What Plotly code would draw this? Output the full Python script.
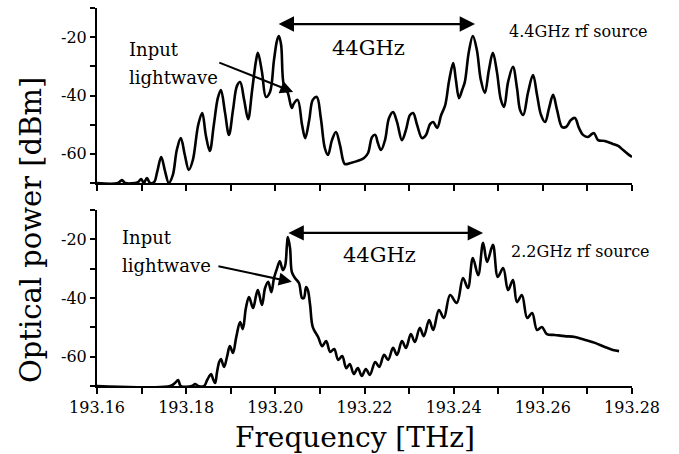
import plotly.graph_objects as go

# ---- data ----
freq_top = [193.1600, 193.1647, 193.1656, 193.1663, 193.1692, 193.1699, 193.1705, 193.1712, 193.1719, 193.1728,
            193.1735, 193.1744, 193.1753, 193.1761, 193.1770, 193.1779, 193.1788, 193.1797, 193.1806, 193.1815,
            193.1827, 193.1836, 193.1844, 193.1853, 193.1862, 193.1871, 193.1878, 193.1887, 193.1896, 193.1905,
            193.1914, 193.1921, 193.1930, 193.1939, 193.1948, 193.1957, 193.1961, 193.1970, 193.1979, 193.1988,
            193.1997, 193.2004, 193.2008, 193.2013, 193.2019, 193.2028, 193.2037, 193.2041, 193.2050, 193.2060,
            193.2067, 193.2076, 193.2084, 193.2093, 193.2102, 193.2111, 193.2118, 193.2127, 193.2136, 193.2145,
            193.2156, 193.2167, 193.2183, 193.2199, 193.2208, 193.2217, 193.2224, 193.2230, 193.2237, 193.2246,
            193.2255, 193.2264, 193.2273, 193.2284, 193.2293, 193.2302, 193.2309, 193.2318, 193.2329, 193.2338,
            193.2347, 193.2354, 193.2363, 193.2372, 193.2381, 193.2390, 193.2399, 193.2405, 193.2412, 193.2419,
            193.2425, 193.2434, 193.2443, 193.2452, 193.2461, 193.2470, 193.2479, 193.2488, 193.2497, 193.2506,
            193.2513, 193.2522, 193.2533, 193.2542, 193.2549, 193.2556, 193.2567, 193.2578, 193.2587, 193.2596,
            193.2605, 193.2614, 193.2623, 193.2632, 193.2643, 193.2652, 193.2663, 193.2672, 193.2681, 193.2690,
            193.2701, 193.2710, 193.2715, 193.2724, 193.2739, 193.2757, 193.2769, 193.2780, 193.2791, 193.2800]
power_top = [-70.0, -70.0, -69.0, -70.0, -69.7, -68.6, -70.0, -68.3, -70.0, -69.7,
             -66.2, -61.1, -66.2, -70.0, -67.3, -58.7, -54.6, -60.4, -65.5, -62.1,
             -50.1, -46.0, -53.5, -59.0, -50.1, -40.9, -38.1, -45.7, -53.5, -45.0,
             -36.7, -35.4, -41.5, -48.1, -38.1, -27.8, -25.4, -31.9, -40.5, -38.8,
             -27.8, -21.0, -19.6, -22.7, -36.4, -39.1, -44.3, -42.9, -41.5, -50.1,
             -54.6, -48.4, -41.5, -40.5, -47.7, -58.0, -60.4, -55.3, -52.5, -57.0,
             -63.5, -63.2, -62.5, -61.4, -59.7, -54.2, -53.5, -56.3, -58.7, -55.3,
             -47.7, -45.7, -49.1, -55.3, -51.8, -46.7, -46.0, -50.1, -54.6, -53.5,
             -49.8, -49.1, -51.1, -46.7, -43.3, -34.7, -28.9, -34.7, -40.9, -38.1,
             -35.4, -25.1, -19.6, -24.4, -34.7, -39.1, -31.3, -25.4, -31.9, -41.5,
             -43.9, -35.4, -30.2, -37.4, -45.0, -46.7, -38.8, -33.0, -39.8, -46.7,
             -49.1, -44.3, -39.8, -45.0, -50.8, -50.8, -48.4, -47.7, -51.1, -53.5,
             -54.2, -53.2, -52.9, -55.3, -55.6, -56.6, -57.3, -58.7, -60.1, -61.1]

freq_bot = [193.1600, 193.1764, 193.1775, 193.1782, 193.1788, 193.1813, 193.1820, 193.1827, 193.1840, 193.1847,
            193.1851, 193.1856, 193.1860, 193.1865, 193.1869, 193.1874, 193.1878, 193.1885, 193.1892, 193.1898,
            193.1905, 193.1912, 193.1921, 193.1927, 193.1934, 193.1941, 193.1950, 193.1957, 193.1961, 193.1970,
            193.1977, 193.1984, 193.1991, 193.1997, 193.2004, 193.2010, 193.2017, 193.2022, 193.2026, 193.2028,
            193.2033, 193.2037, 193.2044, 193.2053, 193.2060, 193.2064, 193.2069, 193.2073, 193.2078, 193.2084,
            193.2096, 193.2105, 193.2114, 193.2123, 193.2132, 193.2141, 193.2150, 193.2159, 193.2167, 193.2176,
            193.2185, 193.2194, 193.2203, 193.2212, 193.2224, 193.2233, 193.2244, 193.2253, 193.2264, 193.2273,
            193.2284, 193.2293, 193.2304, 193.2313, 193.2324, 193.2333, 193.2345, 193.2354, 193.2367, 193.2378,
            193.2392, 193.2407, 193.2421, 193.2432, 193.2443, 193.2455, 193.2466, 193.2475, 193.2488, 193.2499,
            193.2511, 193.2522, 193.2533, 193.2542, 193.2553, 193.2565, 193.2576, 193.2587, 193.2598, 193.2609,
            193.2627, 193.2649, 193.2672, 193.2695, 193.2717, 193.2739, 193.2757, 193.2771]
power_bot = [-70.0, -70.0, -69.0, -68.0, -70.0, -70.0, -69.3, -70.0, -70.0, -68.0,
             -66.9, -65.9, -67.5, -69.0, -65.5, -61.8, -60.8, -63.5, -59.8, -56.4,
             -58.7, -53.6, -48.2, -50.6, -43.4, -39.7, -43.4, -39.0, -37.3, -42.4,
             -36.6, -34.5, -38.0, -33.2, -29.8, -27.5, -30.5, -29.0, -22.0, -19.2,
             -23.0, -31.1, -33.2, -34.9, -40.0, -40.0, -36.3, -37.3, -42.4, -49.9,
             -53.3, -56.4, -54.7, -58.4, -57.4, -61.1, -59.8, -63.9, -62.5, -65.9,
             -63.9, -66.6, -64.2, -66.2, -61.8, -63.5, -59.4, -61.1, -57.0, -59.4,
             -54.7, -57.0, -52.3, -55.0, -50.2, -53.0, -47.5, -50.9, -44.1, -46.8,
             -39.0, -41.7, -33.2, -36.6, -26.4, -32.2, -21.2, -27.7, -21.9, -32.8,
             -29.8, -37.3, -33.9, -41.4, -39.0, -46.8, -45.1, -50.9, -49.9, -52.3,
             -52.6, -53.0, -53.3, -54.3, -55.3, -56.7, -57.7, -58.1]

x_tick_vals = [193.16, 193.17, 193.18, 193.19, 193.20, 193.21, 193.22,
               193.23, 193.24, 193.25, 193.26, 193.27, 193.28]
x_tick_labels = ["193.16", "", "193.18", "", "193.20", "", "193.22",
                 "", "193.24", "", "193.26", "", "193.28"]
y_tick_vals = [-70, -60, -50, -40, -30, -20, -10]
y_tick_labels = ["", "-60", "", "-40", "", "-20", ""]

FONT = "DejaVu Serif"
BLACK = "#000000"

fig = go.Figure()
fig.add_trace(go.Scatter(x=freq_top, y=power_top, mode="lines",
                         line=dict(color=BLACK, width=2.6, shape="spline", smoothing=1.0),
                         xaxis="x", yaxis="y", showlegend=False, hoverinfo="skip"))
fig.add_trace(go.Scatter(x=freq_bot, y=power_bot, mode="lines",
                         line=dict(color=BLACK, width=2.6, shape="spline", smoothing=1.0),
                         xaxis="x2", yaxis="y2", showlegend=False, hoverinfo="skip"))

xax = dict(range=[193.16, 193.28], showline=True, linecolor=BLACK, linewidth=2,
           ticks="outside", ticklen=6, tickwidth=1.5, tickcolor=BLACK,
           tickvals=x_tick_vals, showgrid=False, zeroline=False,
           tickfont=dict(family=FONT, size=16, color=BLACK), mirror=False)
yax = dict(range=[-70, -10], showline=True, linecolor=BLACK, linewidth=2,
           ticks="outside", ticklen=5, tickwidth=1.5, tickcolor=BLACK,
           tickvals=y_tick_vals, ticktext=y_tick_labels, showgrid=False, zeroline=False,
           tickfont=dict(family=FONT, size=16, color=BLACK), mirror=False)

fig.update_layout(
    width=679, height=454,
    margin=dict(l=97, r=47, t=8, b=68),
    paper_bgcolor="white", plot_bgcolor="white",
    xaxis=dict(xax, domain=[0, 1], anchor="y", ticktext=[""] * len(x_tick_vals)),
    yaxis=dict(yax, domain=[0.537, 1.0], anchor="x"),
    xaxis2=dict(xax, domain=[0, 1], anchor="y2", ticktext=x_tick_labels),
    yaxis2=dict(yax, domain=[0.0, 0.4656], anchor="x2"),
)

ann = []
# double arrows (44 GHz spacing)
ann.append(dict(xref="x", yref="y", axref="x", ayref="y", x=193.2448, y=-15.5, ax=193.2004, ay=-15.5,
                text="", showarrow=True, arrowhead=2, startarrowhead=2, arrowside="end+start",
                arrowsize=1.4, startarrowsize=1.4, arrowwidth=2.2, arrowcolor=BLACK))
ann.append(dict(xref="x2", yref="y2", axref="x2", ayref="y2", x=193.2466, y=-17.8, ax=193.2026, ay=-17.8,
                text="", showarrow=True, arrowhead=2, startarrowhead=2, arrowside="end+start",
                arrowsize=1.4, startarrowsize=1.4, arrowwidth=2.2, arrowcolor=BLACK))
# input lightwave arrows
ann.append(dict(xref="x", yref="y", axref="x", ayref="y", x=193.2040, y=-38.8, ax=193.1871, ay=-28.5,
                text="", showarrow=True, arrowhead=2, arrowsize=1.3, arrowwidth=2, arrowcolor=BLACK))
ann.append(dict(xref="x2", yref="y2", axref="x2", ayref="y2", x=193.2037, y=-34.5, ax=193.1869, ay=-29.1,
                text="", showarrow=True, arrowhead=2, arrowsize=1.3, arrowwidth=2, arrowcolor=BLACK))

def label(xr, yr, x, y, t, size, xanchor="left"):
    return dict(xref=xr, yref=yr, x=x, y=y, text=t, showarrow=False, xanchor=xanchor, yanchor="middle",
                font=dict(family=FONT, size=size, color=BLACK))

ann.append(label("x", "y", 193.2208, -23.7, "44GHz", 21, "center"))
ann.append(label("x2", "y2", 193.2233, -25.3, "44GHz", 21, "center"))
ann.append(label("x", "y", 193.2520, -17.9, "4.4GHz rf source", 16))
ann.append(label("x2", "y2", 193.2524, -24.3, "2.2GHz rf source", 16))
ann.append(label("x", "y", 193.1667, -24.1, "Input", 18))
ann.append(label("x", "y", 193.1667, -33.7, "lightwave", 18))
ann.append(label("x2", "y2", 193.1652, -19.5, "Input", 18))
ann.append(label("x2", "y2", 193.1652, -28.8, "lightwave", 18))
# axis titles
ann.append(dict(xref="paper", yref="paper", x=0.482, y=-0.135, text="Frequency [THz]", showarrow=False,
                xanchor="center", yanchor="middle", font=dict(family=FONT, size=28, color=BLACK)))
ann.append(dict(xref="paper", yref="paper", x=-0.123, y=0.413, text="Optical power [dBm]", showarrow=False,
                textangle=-90, xanchor="center", yanchor="middle", font=dict(family=FONT, size=29, color=BLACK)))

fig.update_layout(annotations=ann)
fig.write_html("out.html")
